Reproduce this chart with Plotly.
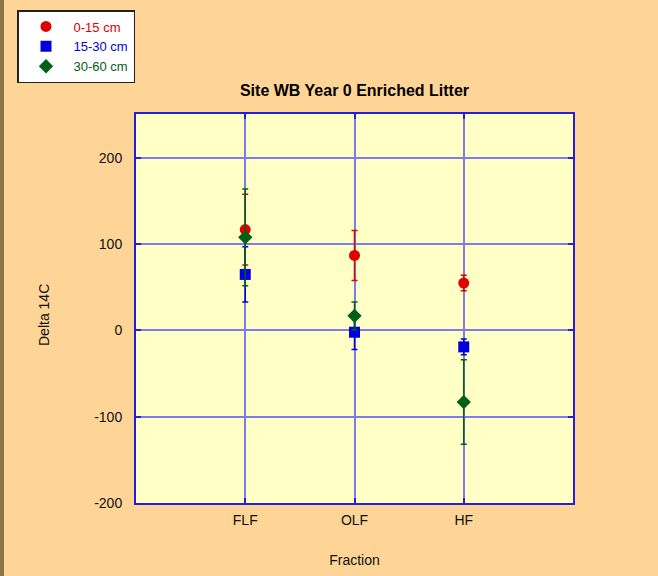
import plotly.graph_objects as go

categories = ["FLF", "OLF", "HF"]
x_pos = [1, 2, 3]

depth_0_15 = [117, 87, 55]
err_0_15 = [41, 29, 9]
depth_15_30 = [65, -2, -19]
err_15_30 = [32, 20, 9]
depth_30_60 = [108, 17, -83]
err_30_60 = [56, 16, 49]

y_ticks = [-200, -100, 0, 100, 200]
y_tick_labels = [str(v) for v in y_ticks]

series = [
    ("0-15 cm", depth_0_15, err_0_15, "#E00000", "circle", 11),
    ("15-30 cm", depth_15_30, err_15_30, "#0000DD", "square", 11),
    ("30-60 cm", depth_30_60, err_30_60, "#006018", "diamond", 11),
]

fig = go.Figure()
for name, vals, errs, col, sym, sz in series:
    fig.add_trace(go.Scatter(
        x=x_pos, y=vals, mode="markers",
        name="<span style='color:%s'>%s</span>" % (col, name),
        marker=dict(color=col, symbol=sym, size=sz, line=dict(width=0)),
        error_y=dict(type="data", array=errs, visible=True, color=col,
                     thickness=1.5, width=3),
    ))

W, H = 658, 576
L, R, T, B = 136, 85, 114, 73
PW, PH = W - L - R, H - T - B

fig.update_layout(
    width=W, height=H,
    margin=dict(l=L, r=R, t=T, b=B, autoexpand=False),
    paper_bgcolor="#FED597",
    plot_bgcolor="#FFFFC6",
    font=dict(family="Liberation Sans, Arial, sans-serif", size=14, color="#111111"),
    title=dict(text="<b>Site WB Year 0 Enriched Litter</b>", x=(L + (W - R)) / 2 / W,
               xanchor="center", xref="container", y=1 - 90 / H, yanchor="middle",
               yref="container", font=dict(size=16, color="#000000")),
    showlegend=True,
    legend=dict(xref="container", yref="container", x=17 / W, y=1 - 10 / H,
                xanchor="left", yanchor="top", bgcolor="#FFFFFF",
                bordercolor="#222222", borderwidth=1.5,
                font=dict(size=13), itemwidth=45, tracegroupgap=0),
    shapes=[dict(type="rect", xref="paper", yref="paper",
                 x0=-L / PW, x1=-(L - 4) / PW, y0=-B / PH,
                 y1=1 + T / PH, fillcolor="#8E7448", line=dict(width=0),
                 layer="below")],
    annotations=[dict(text="Delta 14C", textangle=-90, xref="paper", yref="paper",
                      x=(44 - L) / PW, y=(H - B - 315) / PH, xanchor="center",
                      yanchor="middle", showarrow=False, font=dict(size=14))],
)

fig.update_xaxes(
    range=[0, 4], tickvals=x_pos, ticktext=categories,
    showgrid=True, gridcolor="#7C7CEE", gridwidth=2,
    showline=True, linecolor="#2020DD", linewidth=2, mirror="ticks",
    ticks="inside", ticklen=5, tickcolor="#2020DD", tickwidth=2,
    zeroline=False, ticklabelstandoff=3,
    title=dict(text="Fraction", standoff=28, font=dict(size=14)),
)
fig.update_yaxes(
    range=[-200, 251], tickvals=y_ticks, ticktext=y_tick_labels,
    showgrid=True, gridcolor="#7C7CEE", gridwidth=2,
    showline=True, linecolor="#2020DD", linewidth=2, mirror="ticks",
    ticks="inside", ticklen=5, tickcolor="#2020DD", tickwidth=2,
    zeroline=False, ticklabelstandoff=9,
)

fig.write_html(
    "out.html",
    config={"displayModeBar": False},
    post_script="document.body.style.margin='0';document.body.style.padding='0';document.body.style.overflow='hidden';",
)
